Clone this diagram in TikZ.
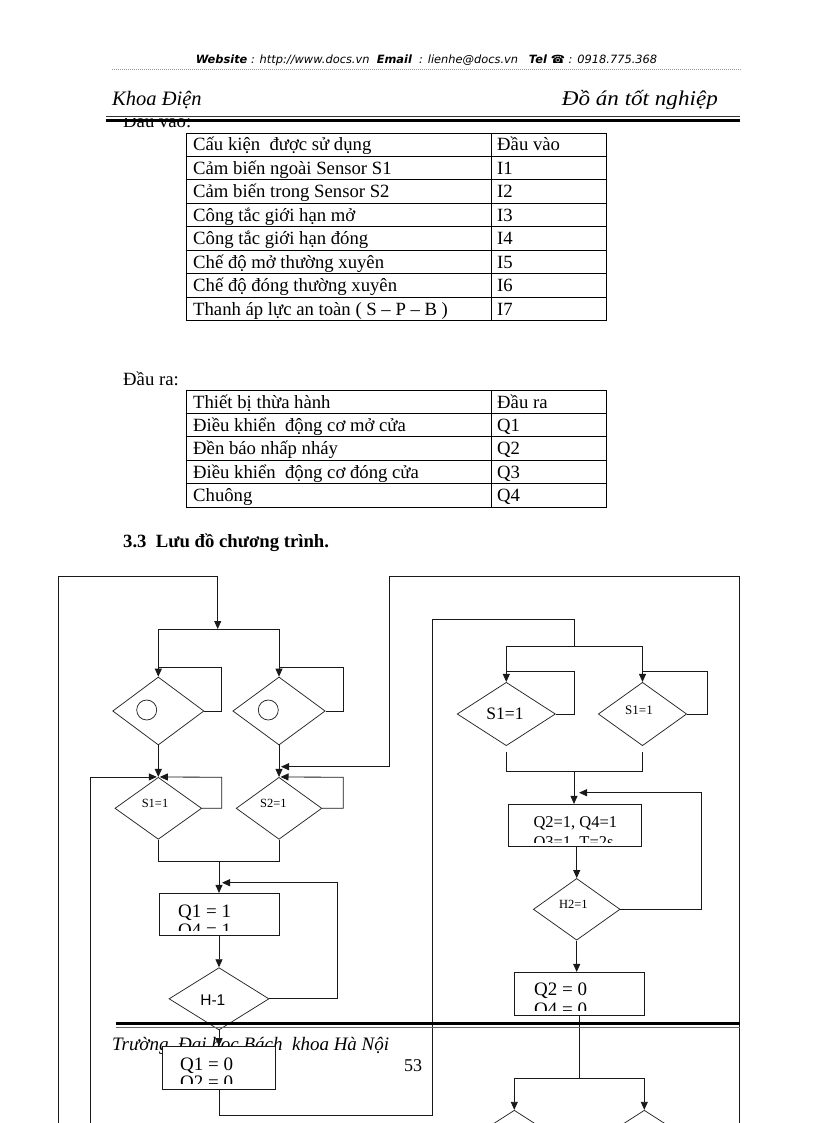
\documentclass[tikz,border=0pt]{standalone}
\usepackage{graphicx}
\usepackage{fontspec}
\setmainfont{Liberation Serif}
\newfontfamily\webfont{DejaVu Sans}
\newfontfamily\arialf{Liberation Sans}
\usetikzlibrary{arrows.meta,shapes.geometric}
\tikzset{
  ln/.style={line width=0.85pt, draw=black!90},
  arr/.style={ln, -{Triangle[length=8pt,width=7pt]}},
  dia/.style 2 args={shape=diamond, draw=black!85, line width=0.75pt, inner sep=0pt, minimum width=#1, minimum height=#2},
  box/.style 2 args={rectangle, draw=black!90, line width=0.85pt, fill=white, inner sep=0pt, minimum width=#1, minimum height=#2},
  tl/.style={line width=0.8pt, draw=black},
  tt/.style={anchor=base west, inner sep=0pt, font=\fontsize{18.7}{20}\selectfont},
  bt/.style={anchor=base west, inner sep=0pt, font=\fontsize{19}{21}\selectfont},
  bts/.style={anchor=base west, inner sep=0pt, font=\fontsize{16.5}{19}\selectfont},
  lbl/.style={inner sep=0pt},
}
\begin{document}
\begin{tikzpicture}[x=1pt,y={(0pt,-1pt)}]
\useasboundingbox (0,0) rectangle (816,1123);
\fill[white] (0,0) rectangle (816,1123);
\clip (0,0) rectangle (816,1123);

% ---------- header ----------
\node[lbl, anchor=base] (web) at (426.5,64) {\webfont\fontsize{11.4}{13}\selectfont\itshape\textbf{Website} : http://www.docs.vn\ \ \textbf{Email}\ \ : lienhe@docs.vn\ \ \ \textbf{Tel ☎} : 0918.775.368};
\draw[gray!80, line width=0.8pt, dash pattern=on 1pt off 1pt] (112,69) -- (742,69);
\begin{scope}
  \clip (100,75) rectangle (760,108.3);
  \node[lbl, anchor=base west] (khoa) at (112,106) {\fontsize{20.5}{22}\selectfont\itshape Khoa Điện};
  \node[lbl, anchor=base east] (doan) at (718,106) {\scalebox{1.1}[1]{\fontsize{21}{23}\selectfont\itshape Đồ án tốt nghiệp}};
\end{scope}
\begin{scope}
  \clip (100,119) rectangle (300,140);
  \node[tt] (dauvao) at (123,128) {Đầu vào:};
\end{scope}
\draw[black!80, line width=1pt] (106,116.7) -- (740,116.7);
\draw[black, line width=3pt] (106,120.7) -- (740,120.7);

% ---------- table 1 ----------
\foreach \i in {0,...,8} \draw[tl] (186,133+\i*23.44) -- (606.7,133+\i*23.44);
\draw[tl] (186,133) -- (186,320.5);
\draw[tl] (491.7,133) -- (491.7,320.5);
\draw[tl] (606.7,133) -- (606.7,320.5);
\foreach \i/\a/\b in {0/Cấu kiện\ \ được sử dụng/Đầu vào,
  1/Cảm biến ngoài Sensor S1/I1,
  2/Cảm biến trong Sensor S2/I2,
  3/Công tắc giới hạn mở/I3,
  4/Công tắc giới hạn đóng/I4,
  5/Chế độ mở thường xuyên/I5,
  6/Chế độ đóng thường xuyên/I6,
  7/Thanh áp lực an toàn ( S – P – B )/I7}{
  \node[tt] (ta\i) at (193,151+\i*23.44) {\a};
  \node[tt] (tb\i) at (497,151+\i*23.44) {\b};
}

% ---------- table 2 ----------
\node[tt] (daura) at (123,385) {Đầu ra:};
\foreach \i in {0,...,5} \draw[tl] (186,390+\i*23.44) -- (606.7,390+\i*23.44);
\draw[tl] (186,390) -- (186,507.2);
\draw[tl] (491.7,390) -- (491.7,507.2);
\draw[tl] (606.7,390) -- (606.7,507.2);
\foreach \i/\a/\b in {0/Thiết bị thừa hành/Đầu ra,
  1/Điều khiển\ \ động cơ mở cửa/Q1,
  2/Đền báo nhấp nháy/Q2,
  3/Điều khiển\ \ động cơ đóng cửa/Q3,
  4/Chuông/Q4}{
  \node[tt] (tc\i) at (193,408+\i*23.44) {\a};
  \node[tt] (td\i) at (497,408+\i*23.44) {\b};
}
\node[tt] (head) at (123,547) {\bfseries 3.3\ \ Lưu đồ chương trình.};

% ---------- footer text (under the boxes) ----------
\node[lbl, anchor=base west] (truong) at (112,1050) {\fontsize{19}{21}\selectfont\itshape Trường\ \ Đại học Bách\ \ khoa Hà Nội};
\node[lbl, anchor=base] (page) at (413,1071.7) {\fontsize{18}{20}\selectfont 53};

% ---------- flowchart nodes ----------
\node[dia={91.3}{68}] (D1) at (158.3,711) {};
\node[dia={92.4}{68}] (D2) at (279,711) {};
\node[circle, draw=black!85, line width=0.75pt, minimum size=20pt, inner sep=0pt] (c1) at (146.7,710) {};
\node[circle, draw=black!85, line width=0.75pt, minimum size=20pt, inner sep=0pt] (c2) at (268.3,710) {};
\node[dia={86.7}{62}] (S1) at (158.3,808.3) {};
\node[dia={85.7}{62}] (S2) at (279,808.3) {};
\node[lbl] (s1l) at (155,803.3) {\fontsize{12.5}{14}\selectfont S1=1};
\node[lbl] (s2l) at (273.3,803.3) {\fontsize{12.5}{14}\selectfont S2=1};
\node[box={120}{41.7}] (B1) at (219,914.2) {};
\node[dia={100}{62.3}] (H1) at (219,998.8) {};
\node[lbl] (h1l) at (212.8,1000) {\arialf\fontsize{15.5}{17}\selectfont H-1};
\node[box={113.3}{42.3}] (B2) at (219,1067.8) {};

\node[dia={98.3}{63.4}] (DA) at (506.3,714) {};
\node[dia={88.4}{63.4}] (DB) at (642.5,714) {};
\node[lbl] (dal) at (505,714) {\fontsize{17.5}{19}\selectfont S1=1};
\node[lbl] (dbl) at (639,710) {\fontsize{13}{15}\selectfont S1=1};
\node[box={133.4}{41.7}] (B3) at (575,825.2) {};
\node[dia={86.7}{61.7}] (H2) at (576.7,909.3) {};
\node[lbl] (h2l) at (573.3,904) {\fontsize{12.5}{14}\selectfont H2=1};
\node[box={130}{42.7}] (B4) at (579.3,993.7) {};
\node[dia={98}{63}] (E1) at (514.3,1141.7) {};
\node[dia={98}{63}] (E2) at (644.3,1141.7) {};

% ---------- box texts (clipped second line) ----------
\begin{scope}
  \clip (B1.north west) rectangle (B1.east |- 0,930);
  \node[bt] (b1a) at (178,917) {Q1 = 1};
  \node[bt] (b1b) at (178,936) {Q4 = 1};
\end{scope}
\begin{scope}
  \clip (B2.north west) rectangle (B2.east |- 0,1083);
  \node[bt] (b2a) at (180,1070.5) {Q1 = 0};
  \node[bt] (b2b) at (180,1088) {Q2 = 0};
\end{scope}
\begin{scope}
  \clip (B3.north west) rectangle (B3.east |- 0,842);
  \node[bts] (b3a) at (533.3,827) {Q2=1, Q4=1};
  \node[bts] (b3b) at (533.3,847) {Q3=1, T=2s};
\end{scope}
\begin{scope}
  \clip (B4.north west) rectangle (B4.east |- 0,1010);
  \node[bt] (b4a) at (534,995.5) {Q2 = 0};
  \node[bt] (b4b) at (534,1015) {Q4 = 0};
\end{scope}

% ---------- connectors, left part ----------
\coordinate (oL) at (58.3,1130);
\coordinate (tL) at (217.7,576);
\coordinate (sp1) at (217.7,629);
\draw[ln] (oL) |- (tL);
\draw[arr] (tL) -- (sp1);
\draw[ln] (158.3,629) -- (279,629);
\draw[arr] (158.3,629) -- (D1.north);
\draw[arr] (279,629) -- (D2.north);
\draw[ln] (D1.east) -| (221.7,667) -- (158.3,667);
\draw[ln] (D2.east) -| (343.3,667) -- (279,667);
\draw[arr] (D1.south) -- (S1.north);
\draw[arr] (D2.south) -- (S2.north);
\coordinate (iL) at (90.7,1130);
\draw[arr] (iL) |- ([xshift=-1.5pt]S1.north);
\draw[arr] (S1.east) -| (221.7,777.3) -- ([xshift=1.5pt]S1.north);
\draw[arr] (S2.east) -| (343.3,777.3) -- ([xshift=1.5pt]S2.north);
\coordinate (oR) at (739.3,1130);
\draw[arr] (oR) -- (739.3,576) -- (389.3,576) -- (389.3,766.7) -- (281,766.7);
\draw[ln] (S1.south) |- (279,861.7) -- (S2.south);
\draw[arr] (219,861.7) -- (B1.north);
\draw[arr] (B1.south) -- (H1.north);
\draw[arr] (H1.east) -| (337.3,882.7) -- (222,882.7);
\draw[arr] (H1.south) -- (B2.north);
\draw[ln] (B2.south) |- (432.7,1115) -- (432.7,619.3) -| (574,646);

% ---------- connectors, right part ----------
\draw[ln] (506.3,646) -- (642.5,646);
\draw[arr] (506.3,646) -- (DA.north);
\draw[arr] (642.5,646) -- (DB.north);
\draw[ln] (DA.east) -| (574,671) -- (506.3,671);
\draw[ln] (DB.east) -| (707.3,671) -- (642.5,671);
\draw[ln] ([yshift=-6pt]DA.south) |- (642.5,771.7) -- ([yshift=-6pt]DB.south);
\draw[arr] (574,771.7) -- (B3.north -| 574,0);
\draw[arr] (B3.south -| H2.north) -- (H2.north);
\draw[arr] (H2.east) -| (701.7,792.7) -- (579,792.7);
\draw[arr] (H2.south) -- (H2.south |- B4.north);
\draw[ln] (B4.south) -- (579.3,1078.3);
\draw[ln] (514.3,1078.3) -- (644.3,1078.3);
\draw[arr] (514.3,1078.3) -- (E1.north);
\draw[arr] (644.3,1078.3) -- (E2.north);

% ---------- footer lines ----------
\draw[black, line width=3pt] (116,1023.5) -- (740,1023.5);
\draw[black!60, line width=0.8pt] (116,1027.6) -- (740,1027.6);
\end{tikzpicture}
\end{document}
